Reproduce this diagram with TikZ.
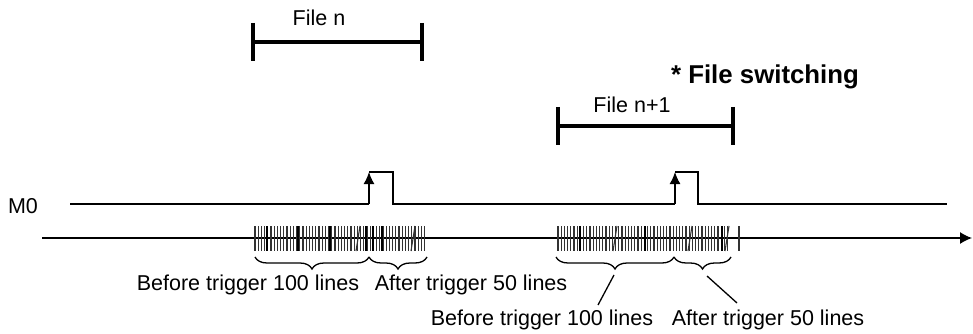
\documentclass[tikz,border=0pt]{standalone}
\usepackage{fontspec}
\setmainfont{Liberation Sans}
\usetikzlibrary{calc, positioning, arrows.meta, decorations.pathreplacing}

\begin{document}
\begin{tikzpicture}[
  x=1pt, y=-1pt,
  lbl/.style={inner sep=0pt, font=\fontsize{21.5}{25}\selectfont},
  span/.style={line width=3.6pt, line cap=butt},
  sig/.style={line width=1.4pt},
  tick/.style={line width=1.1pt, black!80},
  fat/.style={line width=2.8pt},
  brc/.style={decorate, decoration={brace, mirror, amplitude=12pt}, line width=1.3pt},
  lead/.style={line width=1.3pt},
  >=Latex
]
  \useasboundingbox (0,0) rectangle (973,334);

  % file ranges
  \coordinate (fnL) at (253,42);
  \coordinate (fnR) at (422,42);
  \coordinate (fmL) at (558,126);
  \coordinate (fmR) at (733,126);
  \draw[span] (fnL) -- (fnR);
  \draw[span] ($(fnL)+(0,-19)$) -- ($(fnL)+(0,19)$);
  \draw[span] ($(fnR)+(0,-19)$) -- ($(fnR)+(0,19)$);
  \draw[span] (fmL) -- (fmR);
  \draw[span] ($(fmL)+(0,-19)$) -- ($(fmL)+(0,19)$);
  \draw[span] ($(fmR)+(0,-19)$) -- ($(fmR)+(0,19)$);
  \node[lbl] (fn) at (319,18) {File n};
  \node[lbl] (fm) at (632,105) {File n+1};
  \node[lbl, font=\fontsize{25.8}{30}\bfseries] (sw) at (765,77) {* File switching};

  % M0 signal
  \node[lbl] (m0) at (23,206) {M0};
  \coordinate (s0) at (70,204);
  \coordinate (p1a) at (369,204);
  \coordinate (p1b) at (369,172);
  \coordinate (p1c) at (393,172);
  \coordinate (p1d) at (393,204);
  \coordinate (p2a) at (675,204);
  \coordinate (p2b) at (675,172);
  \coordinate (p2c) at (698,172);
  \coordinate (p2d) at (698,204);
  \coordinate (s1) at (947,204);
  \draw[sig] (s0) -- (p1a) (p1b) -- (p1c) -- (p1d) -- (p2a) (p2b) -- (p2c) -- (p2d) -- (s1);
  \draw[sig, -{Latex[length=12pt, width=11pt]}] (p1a) -- (p1b);
  \draw[sig, -{Latex[length=12pt, width=11pt]}] (p2a) -- (p2b);

  % time axis
  \coordinate (t0) at (42,238);
  \coordinate (t1) at (972,238);
  \draw[sig, -{Latex[length=12pt, width=12pt]}] (t0) -- (t1);

  % sampled lines
  \foreach \x in {255,258.2,...,427}
    \draw[tick] (\x,226) -- (\x,251);
  \foreach \x in {558,561.2,...,729}
    \draw[tick] (\x,226) -- (\x,251);
  \draw[tick] (739,226) -- (739,251);
  \foreach \x in {267,298,330,366,373,382,580,645,722}
    \draw[fat] (\x,226) -- (\x,251);
  \foreach \x in {358,413,615,690,727}
    \draw[tick] (\x-2,251) -- (\x+2,226);

  % braces
  \coordinate (b1L) at (255,257);
  \coordinate (b1M) at (369,257);
  \coordinate (b1R) at (427,257);
  \coordinate (b2L) at (556,257);
  \coordinate (b2M) at (674,257);
  \coordinate (b2R) at (731,257);
  \draw[brc] (b1L) -- (b1M);
  \draw[brc] (b1M) -- (b1R);
  \draw[brc] (b2L) -- (b2M);
  \draw[brc] (b2M) -- (b2R);

  \node[lbl] (bt1) at (248,285) {Before trigger 100 lines};
  \node[lbl] (at1) at (471,285) {After trigger 50 lines};
  \node[lbl] (bt2) at (542,320) {Before trigger 100 lines};
  \node[lbl] (at2) at (768,320) {After trigger 50 lines};

  \coordinate (k1) at (614,275);
  \coordinate (k2) at (598,305);
  \coordinate (k3) at (707,276);
  \coordinate (k4) at (737,303);
  \draw[lead] (k1) -- (k2);
  \draw[lead] (k3) -- (k4);
\end{tikzpicture}
\end{document}
